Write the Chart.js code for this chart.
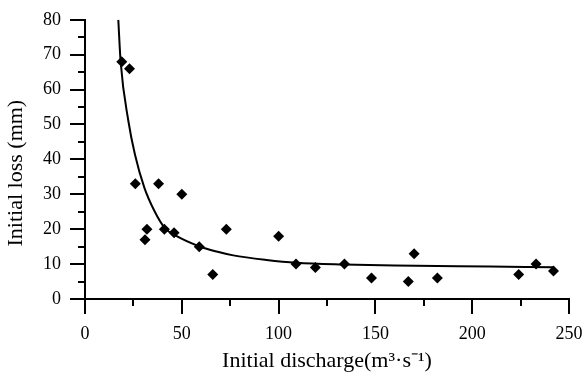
<!DOCTYPE html>
<html>
<head>
<meta charset="utf-8">
<script src="https://cdn.jsdelivr.net/npm/chart.js@4/dist/chart.umd.min.js"></script>
<style>
  html, body { margin: 0; padding: 0; background: #ffffff; }
  #wrap { width: 584px; height: 379px; position: relative; }
</style>
</head>
<body>
<div id="wrap"><canvas id="c"></canvas></div>
<script>
// Observed data points (Initial discharge, Initial loss)
const dischargeValues = [19, 23, 26, 31, 32, 38, 41, 46, 50, 59, 66, 73, 100, 109, 119, 134, 148, 167, 170, 182, 224, 233, 242];
const lossValues      = [68, 66, 33, 17, 20, 33, 20, 19, 30, 15, 7, 20, 18, 10, 9, 10, 6, 5, 13, 6, 7, 10, 8];

// Fitted curve
const curveX = [17.2, 18.4, 22.4, 25.8, 30.6, 35.8, 41.3, 47.4, 58.5, 68, 76.6, 93.8, 109.3, 133.4, 160, 209, 242];
const curveY = [80, 68, 51, 41.4, 32, 25.3, 20.3, 18.0, 15.2, 13.6, 12.5, 11.2, 10.4, 9.9, 9.6, 9.3, 9.1];

// Axis settings
const xTitle = 'Initial discharge(m³·s⁻¹)';
const yTitle = 'Initial loss (mm)     ';
const xMin = 0, xMax = 250, xMajor = 50, xMinor = 25;
const yMin = 0, yMax = 80, yMajor = 10, yMinor = 5;

const scatterData = dischargeValues.map((x, i) => ({ x: x, y: lossValues[i] }));
const curveData = curveX.map((x, i) => ({ x: x, y: curveY[i] }));

const SERIF = "'Liberation Serif', 'Times New Roman', serif";

// Draws major (long) and minor (short) outward tick marks using the scales
const axisTicks = {
  id: 'axisTicks',
  afterDraw(chart) {
    const ctx = chart.ctx;
    const xs = chart.scales.x, ys = chart.scales.y;
    const area = chart.chartArea;
    ctx.save();
    ctx.strokeStyle = '#000000';
    ctx.lineWidth = 2;
    for (let v = xMin; v <= xMax; v += xMinor) {
      const len = (v % xMajor === 0) ? 15 : 7;
      const px = Math.round(xs.getPixelForValue(v));
      ctx.beginPath();
      ctx.moveTo(px, area.bottom);
      ctx.lineTo(px, area.bottom + len);
      ctx.stroke();
    }
    for (let v = yMin; v <= yMax; v += yMinor) {
      const len = (v % yMajor === 0) ? 15 : 7;
      const py = Math.round(ys.getPixelForValue(v));
      ctx.beginPath();
      ctx.moveTo(area.left, py);
      ctx.lineTo(area.left - len, py);
      ctx.stroke();
    }
    ctx.restore();
  }
};

new Chart(document.getElementById('c'), {
  type: 'scatter',
  data: {
    datasets: [
      {
        label: 'Observed',
        data: scatterData,
        pointStyle: 'rectRot',
        pointRadius: 5.5,
        pointBackgroundColor: '#000',
        pointBorderColor: '#000',
        pointBorderWidth: 0,
        showLine: false,
        order: 1
      },
      {
        label: 'Fit',
        data: curveData,
        showLine: true,
        borderColor: '#000',
        borderWidth: 2,
        pointRadius: 0,
        cubicInterpolationMode: 'monotone',
        fill: false,
        order: 2
      }
    ]
  },
  options: {
    responsive: true,
    maintainAspectRatio: false,
    animation: false,
    layout: { padding: { left: 0, right: 15, top: 16, bottom: 0 } },
    plugins: {
      legend: { display: false },
      tooltip: { enabled: false }
    },
    scales: {
      x: {
        type: 'linear',
        min: xMin, max: xMax,
        afterFit(scale) { scale.height = 80; scale.paddingRight = 0; scale.paddingLeft = 0; },
        ticks: {
          stepSize: xMajor,
          padding: 9,
          color: '#000',
          font: { family: SERIF, size: 18 },
          maxRotation: 0
        },
        grid: { drawOnChartArea: false, drawTicks: true, tickLength: 15, tickColor: 'rgba(0,0,0,0)' },
        border: { display: true, color: '#000', width: 2 },
        title: {
          display: true,
          text: xTitle,
          color: '#000',
          font: { family: SERIF, size: 22 },
          padding: { top: 0, bottom: 5 }
        }
      },
      y: {
        type: 'linear',
        min: yMin, max: yMax,
        afterFit(scale) { scale.width = 85; },
        ticks: {
          stepSize: yMajor,
          padding: 9,
          color: '#000',
          font: { family: SERIF, size: 18 }
        },
        grid: { drawOnChartArea: false, drawTicks: true, tickLength: 15, tickColor: 'rgba(0,0,0,0)' },
        border: { display: true, color: '#000', width: 2 },
        title: {
          display: true,
          text: yTitle,
          color: '#000',
          font: { family: SERIF, size: 22 },
          padding: { top: 3, bottom: 0 }
        }
      }
    }
  },
  plugins: [axisTicks]
});
</script>
</body>
</html>
